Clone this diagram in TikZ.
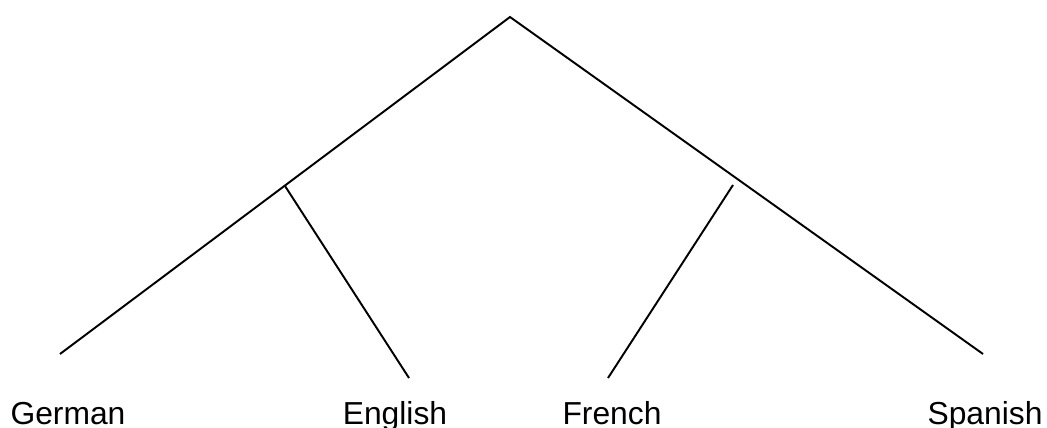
\documentclass[tikz,border=0pt]{standalone}
\usepackage{fontspec}
\setmainfont{Liberation Sans}
\usetikzlibrary{positioning}

\begin{document}
\begin{tikzpicture}[
  x=0.02cm, y=-0.02cm,
  branch/.style={line width=1.1pt, black},
  lang/.style={anchor=base, inner sep=0pt, font=\fontsize{18.1}{21}\selectfont}
]
\useasboundingbox (0,0) rectangle (1047,428);

\coordinate (root) at (510,17);
\coordinate (leftFork) at (285,186);
\coordinate (rightFork) at (733,185);

\node[lang] (german) at (68,424) {German};
\node[lang] (english) at (395,424) {English};
\node[lang] (french) at (612,424) {French};
\node[lang] (spanish) at (985,424) {Spanish};

\coordinate (germanEnd) at (60,354);
\coordinate (englishEnd) at (409,378);
\coordinate (frenchEnd) at (608,378);
\coordinate (spanishEnd) at (983,354);

\draw[branch] (germanEnd) -- (root) -- (spanishEnd);
\draw[branch] (leftFork) -- (englishEnd);
\draw[branch] (rightFork) -- (frenchEnd);
\end{tikzpicture}
\end{document}
